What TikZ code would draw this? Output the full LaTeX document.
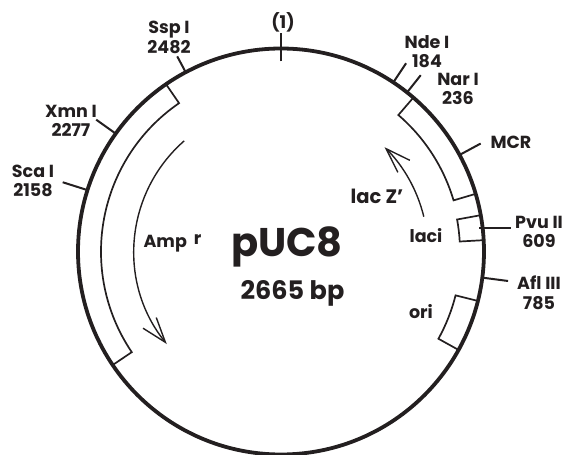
\documentclass[tikz,border=0pt]{standalone}
\usepackage{fontspec}
\setmainfont{Poppins}
\usepackage{xcolor}
\usetikzlibrary{arrows.meta,positioning}
\definecolor{ink}{HTML}{231F20}

\begin{document}
\begin{tikzpicture}[
    x=1pt, y=1pt,
    every path/.style={color=ink},
    site/.style={font=\fontsize{17.5}{19.5}\selectfont\bfseries, text=ink, align=center, inner sep=0pt},
    tick/.style={line width=2pt},
    band/.style={line width=1.7pt, line join=miter},
    arr/.style={line width=1.4pt, -{Straight Barb[length=25pt,width=17pt,line width=1.4pt]}}
]
    \useasboundingbox (-281,-203.5) rectangle (287,251.5);

    % Backbone and origin tick
    \node[circle, draw=ink, line width=3.8pt, minimum size=406pt, inner sep=0pt] (plasmid) at (0,0) {};
    \draw[tick] (0,190) -- (0,218);

    % Gene bands
    \draw[band] (124.5:204) -- (124.5:180) arc[start angle=124.5, end angle=214, radius=180] -- (214:204);
    \draw[band] (49.3:204) -- (49.3:180) arc[start angle=49.3, end angle=16.5, radius=180] -- (16.5:204);
    \draw[band] (10.3:204) -- (10.3:179) arc[start angle=10.3, end angle=3.2, radius=179] -- (3.2:204);
    \draw[band] (-14.1:204) -- (-14.1:180) arc[start angle=-14.1, end angle=-29, radius=180] -- (-29:204);

    % Direction arrows
    \draw[arr] (131.2:147) arc[start angle=131.2, end angle=219, radius=147];
    \draw[arr] (13.7:147) arc[start angle=13.7, end angle=45.2, radius=147];

    % Site labels
    \node[site] (top)  at (2,229.5)    {(1)};
    \node[site] (ssp)  at (-112,214)   {Ssp I\\2482};
    \node[site] (xmn)  at (-210,130.5) {Xmn I\\2277};
    \node[site] (sca)  at (-248,70.5)  {Sca I\\2158};
    \node[site] (nde)  at (146,200)    {Nde I\\184};
    \node[site] (nar)  at (177,162.5)  {Nar I\\236};
    \node[site] (mcr)  at (230,109.5)  {MCR};
    \node[site] (pvu)  at (258,19.5)   {Pvu II\\609};
    \node[site] (afl)  at (258,-41.5)  {Afl III\\785};

    % Site ticks
    \draw[tick] (118:204)   -- (118:221);
    \draw[tick] (144.5:204) -- (144.5:227);
    \draw[tick] (162.4:204) -- (162.4:229);
    \draw[tick] (56.4:204)  -- (56.4:226);
    \draw[tick] (51.6:204)  -- (51.6:225);
    \draw[tick] (28.4:204)  -- (28.4:227);
    \draw[tick] (198,23.5)  -- (230,23.5);
    \draw[tick] (-7.4:204)  -- (-7.4:229);

    % Gene labels
    \node[site, font=\fontsize{19.5}{22}\selectfont\bfseries] (lacz) at (96,55.5) {lac Z'};
    \node[site] (laci) at (145,15.5)   {laci};
    \node[site] (ori)  at (140,-60.5)  {ori};
    \node[site, anchor=base] (amp) at (-108.5,3.5) {Amp\hspace{0.4em}\raisebox{3pt}{r}};

    % Plasmid name
    \node[site, anchor=base, font=\fontsize{40}{44}\selectfont\bfseries] (name) at (6,-5.5) {pUC8};
    \node[site, anchor=base, font=\fontsize{25.5}{28}\selectfont\bfseries] (size) at (11.5,-48.5) {2665 bp};
\end{tikzpicture}
\end{document}
